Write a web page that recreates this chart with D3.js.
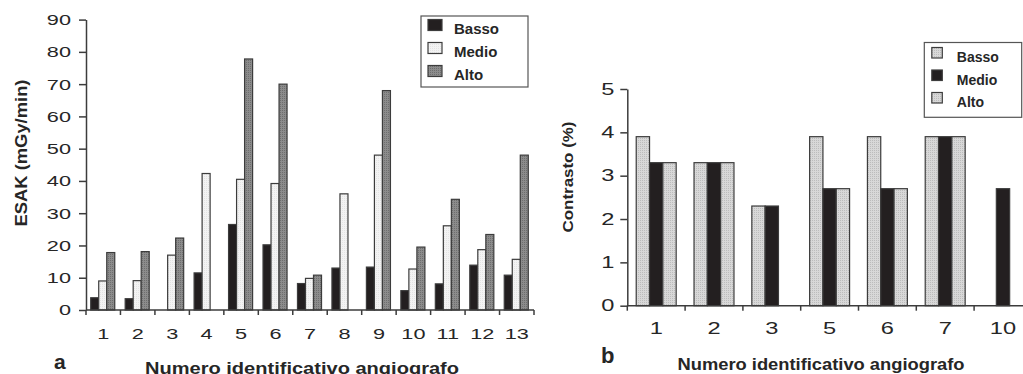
<!DOCTYPE html>
<html><head><meta charset="utf-8">
<script src="https://cdn.jsdelivr.net/npm/d3@7"></script>
<style>
body{margin:0;background:#fff;}
svg{display:block;}
text{font-family:"Liberation Sans",Arial,sans-serif;fill:#262626;}
</style></head>
<body>
<svg id="c" width="1023" height="374"></svg>
<script>
// ---- Data: chart a (ESAK) ----
const catsA = ["1","2","3","4","5","6","7","8","9","10","11","12","13"];
const bassoA = [3.8, 3.5, 0, 11.5, 26.5, 20.2, 8.2, 13, 13.3, 6, 8.1, 13.9, 10.8];
const medioA = [9, 9.1, 17, 42.3, 40.5, 39.2, 9.8, 36, 48, 12.7, 26.1, 18.7, 15.7];
const altoA  = [17.8, 18.1, 22.3, 0, 77.8, 70, 10.8, 0, 68, 19.5, 34.3, 23.4, 48];
const yTicksA = [0,10,20,30,40,50,60,70,80,90];
// ---- Data: chart b (Contrasto) ----
const catsB = ["1","2","3","5","6","7","10"];
const bassoB = [3.9, 3.3, 2.3, 3.9, 3.9, 3.9, 0];
const medioB = [3.3, 3.3, 2.3, 2.7, 2.7, 3.9, 2.7];
const altoB  = [3.3, 3.3, 0, 2.7, 2.7, 3.9, 0];
const yTicksB = [0,1,2,3,4,5];
const seriesNames = ["Basso","Medio","Alto"];

const svg = d3.select("#c");
const defs = svg.append("defs");
function dotPattern(id, bg, dot, size){
  const p = defs.append("pattern").attr("id",id).attr("width",size).attr("height",size)
    .attr("patternUnits","userSpaceOnUse");
  p.append("rect").attr("width",size).attr("height",size).attr("fill",bg);
  p.append("rect").attr("x",0).attr("y",0).attr("width",1).attr("height",1).attr("fill",dot);
  return "url(#"+id+")";
}
const fillAltoA = dotPattern("pA","#8c8c8c","#6e6e6e",2);
const fillMedioA = dotPattern("pM","#f3f3f3","#e4e4e4",2);
const fillGrayB = dotPattern("pB","#d8d8d8","#bcbcbc",2);
const colorsA = ["#231f20", fillMedioA, fillAltoA];
const colorsB = [fillGrayB, "#231f20", fillGrayB];
const stroke = "#3c3c3c";

function drawChart(cfg){
  const g = svg.append("g");
  const x = d3.scaleBand().domain(cfg.cats).range([cfg.x0, cfg.x1]);
  const xs = d3.scaleBand().domain(seriesNames).range([0, x.bandwidth()]).paddingOuter(cfg.po);
  const y = d3.scaleLinear().domain([0, cfg.ymax]).range([cfg.y0, cfg.y1]);
  const series = [cfg.basso, cfg.medio, cfg.alto];
  seriesNames.forEach((s,si)=>{
    g.append("g").selectAll("rect").data(cfg.cats.map((c,i)=>({c, v:series[si][i]})).filter(d=>d.v>0))
      .join("rect")
      .attr("x", d=>x(d.c)+xs(s)+cfg.shift)
      .attr("width", xs.bandwidth())
      .attr("y", d=>y(d.v))
      .attr("height", d=>y(0)-y(d.v))
      .attr("fill", cfg.colors[si])
      .attr("stroke", stroke).attr("stroke-width",1.2);
  });
  const sx = cfg.sx;
  // y axis
  const ya = g.append("g").attr("transform",`translate(${cfg.x0},0)`)
    .call(d3.axisLeft(y).tickValues(cfg.yticks).tickFormat(d3.format("d")).tickSize(7).tickPadding(cfg.tp).tickSizeOuter(0));
  ya.select(".domain").attr("stroke",stroke).attr("stroke-width",1.5);
  ya.selectAll(".tick line").attr("stroke",stroke).attr("stroke-width",1.5);
  ya.selectAll("text").style("font-size",cfg.tfs+"px").attr("fill","#2a2a2a")
    .attr("x", -(7+cfg.tp)/sx).attr("transform",`scale(${sx},1)`);
  // x axis
  const xa = g.append("g").attr("transform",`translate(0,${cfg.y0})`)
    .call(d3.axisBottom(x).tickSize(0).tickPadding(cfg.xtp).tickSizeOuter(0));
  xa.select(".domain").attr("stroke",stroke).attr("stroke-width",1.5).attr("d",`M${cfg.x0},0H${cfg.xend}`);
  xa.selectAll("text").style("font-size",cfg.tfs+"px").attr("fill","#2a2a2a").attr("transform",`scale(${sx},1)`);
  const bounds = cfg.cats.map(c=>x(c)).concat([cfg.x1]).filter(v=>v<=1023);
  xa.append("g").selectAll("line").data(bounds).join("line")
    .attr("x1",d=>d).attr("x2",d=>d).attr("y1",0).attr("y2",5)
    .attr("stroke",stroke).attr("stroke-width",1.5);
  // legend
  const lg = g.append("g");
  lg.append("rect").attr("x",cfg.lx).attr("y",cfg.ly).attr("width",cfg.lw).attr("height",cfg.lh)
    .attr("fill","#fff").attr("stroke","#555").attr("stroke-width",1.2);
  seriesNames.forEach((s,i)=>{
    lg.append("rect").attr("x",cfg.lx+cfg.sxo).attr("y",cfg.ly+cfg.syo+i*cfg.ls).attr("width",cfg.sw).attr("height",cfg.sh)
      .attr("fill",cfg.colors[i]).attr("stroke",stroke).attr("stroke-width",1.2);
    lg.append("text").attr("x",cfg.lx+cfg.tx).attr("y",cfg.ly+cfg.tyo+i*cfg.ls).attr("dy","0.35em")
      .style("font-size",cfg.lfs+"px").style("font-weight","bold").text(s);
  });
  // titles
  g.append("text").attr("transform",`translate(${cfg.ytx},${cfg.yty}) rotate(-90)`)
    .attr("text-anchor","middle").attr("dy","0.35em").style("font-size",cfg.ytfs+"px").style("font-weight","bold")
    .attr("textLength",cfg.ytl).attr("lengthAdjust","spacingAndGlyphs")
    .text(cfg.ytitle);
  g.append("text").attr("x",cfg.xtx).attr("y",cfg.xty).attr("text-anchor","middle")
    .style("font-size",cfg.xtfs+"px").style("font-weight","bold")
    .attr("textLength",cfg.xtl).attr("lengthAdjust","spacingAndGlyphs")
    .text("Numero identificativo angiografo");
  g.append("text").attr("x",cfg.px).attr("y",cfg.py).style("font-size",cfg.pfs+"px").style("font-weight","bold").text(cfg.panel);
}

drawChart({cats:catsA,basso:bassoA,medio:medioA,alto:altoA,colors:colorsA,
  x0:86,x1:534,xend:534,po:0.65,shift:-0.5,ymax:90,y0:310,y1:19.6,yticks:yTicksA,tp:8,xtp:18,tfs:15.5,sx:1.4,
  lx:421,ly:16,lw:107,lh:71,ls:23,sw:14,sh:11,sxo:7,syo:3.5,tx:33,tyo:12.5,lfs:15,
  ytitle:"ESAK (mGy/min)",ytx:21,yty:153,ytfs:16.5,ytl:147,xtx:302,xty:373.5,xtfs:17,xtl:314,px:54,py:369,pfs:21,panel:"a"});
drawChart({cats:catsB,basso:bassoB,medio:medioB,alto:altoB,colors:colorsB,
  x0:627.3,x1:627.3+57.8*7,xend:1023,po:0.67,shift:0,ymax:5,y0:305.7,y1:89,yticks:yTicksB,tp:6,xtp:17,tfs:16.3,sx:1.45,
  lx:924.3,ly:42.5,lw:97.4,lh:74.8,ls:22.5,sw:10.5,sh:10.5,sxo:7.5,syo:5,tx:32.5,tyo:15,lfs:14,
  ytitle:"Contrasto (%)",ytx:568,yty:177,ytfs:15.5,ytl:111,xtx:821,xty:369.5,xtfs:16.3,xtl:287,px:601,py:363,pfs:22,panel:"b"});
</script>
</body></html>
